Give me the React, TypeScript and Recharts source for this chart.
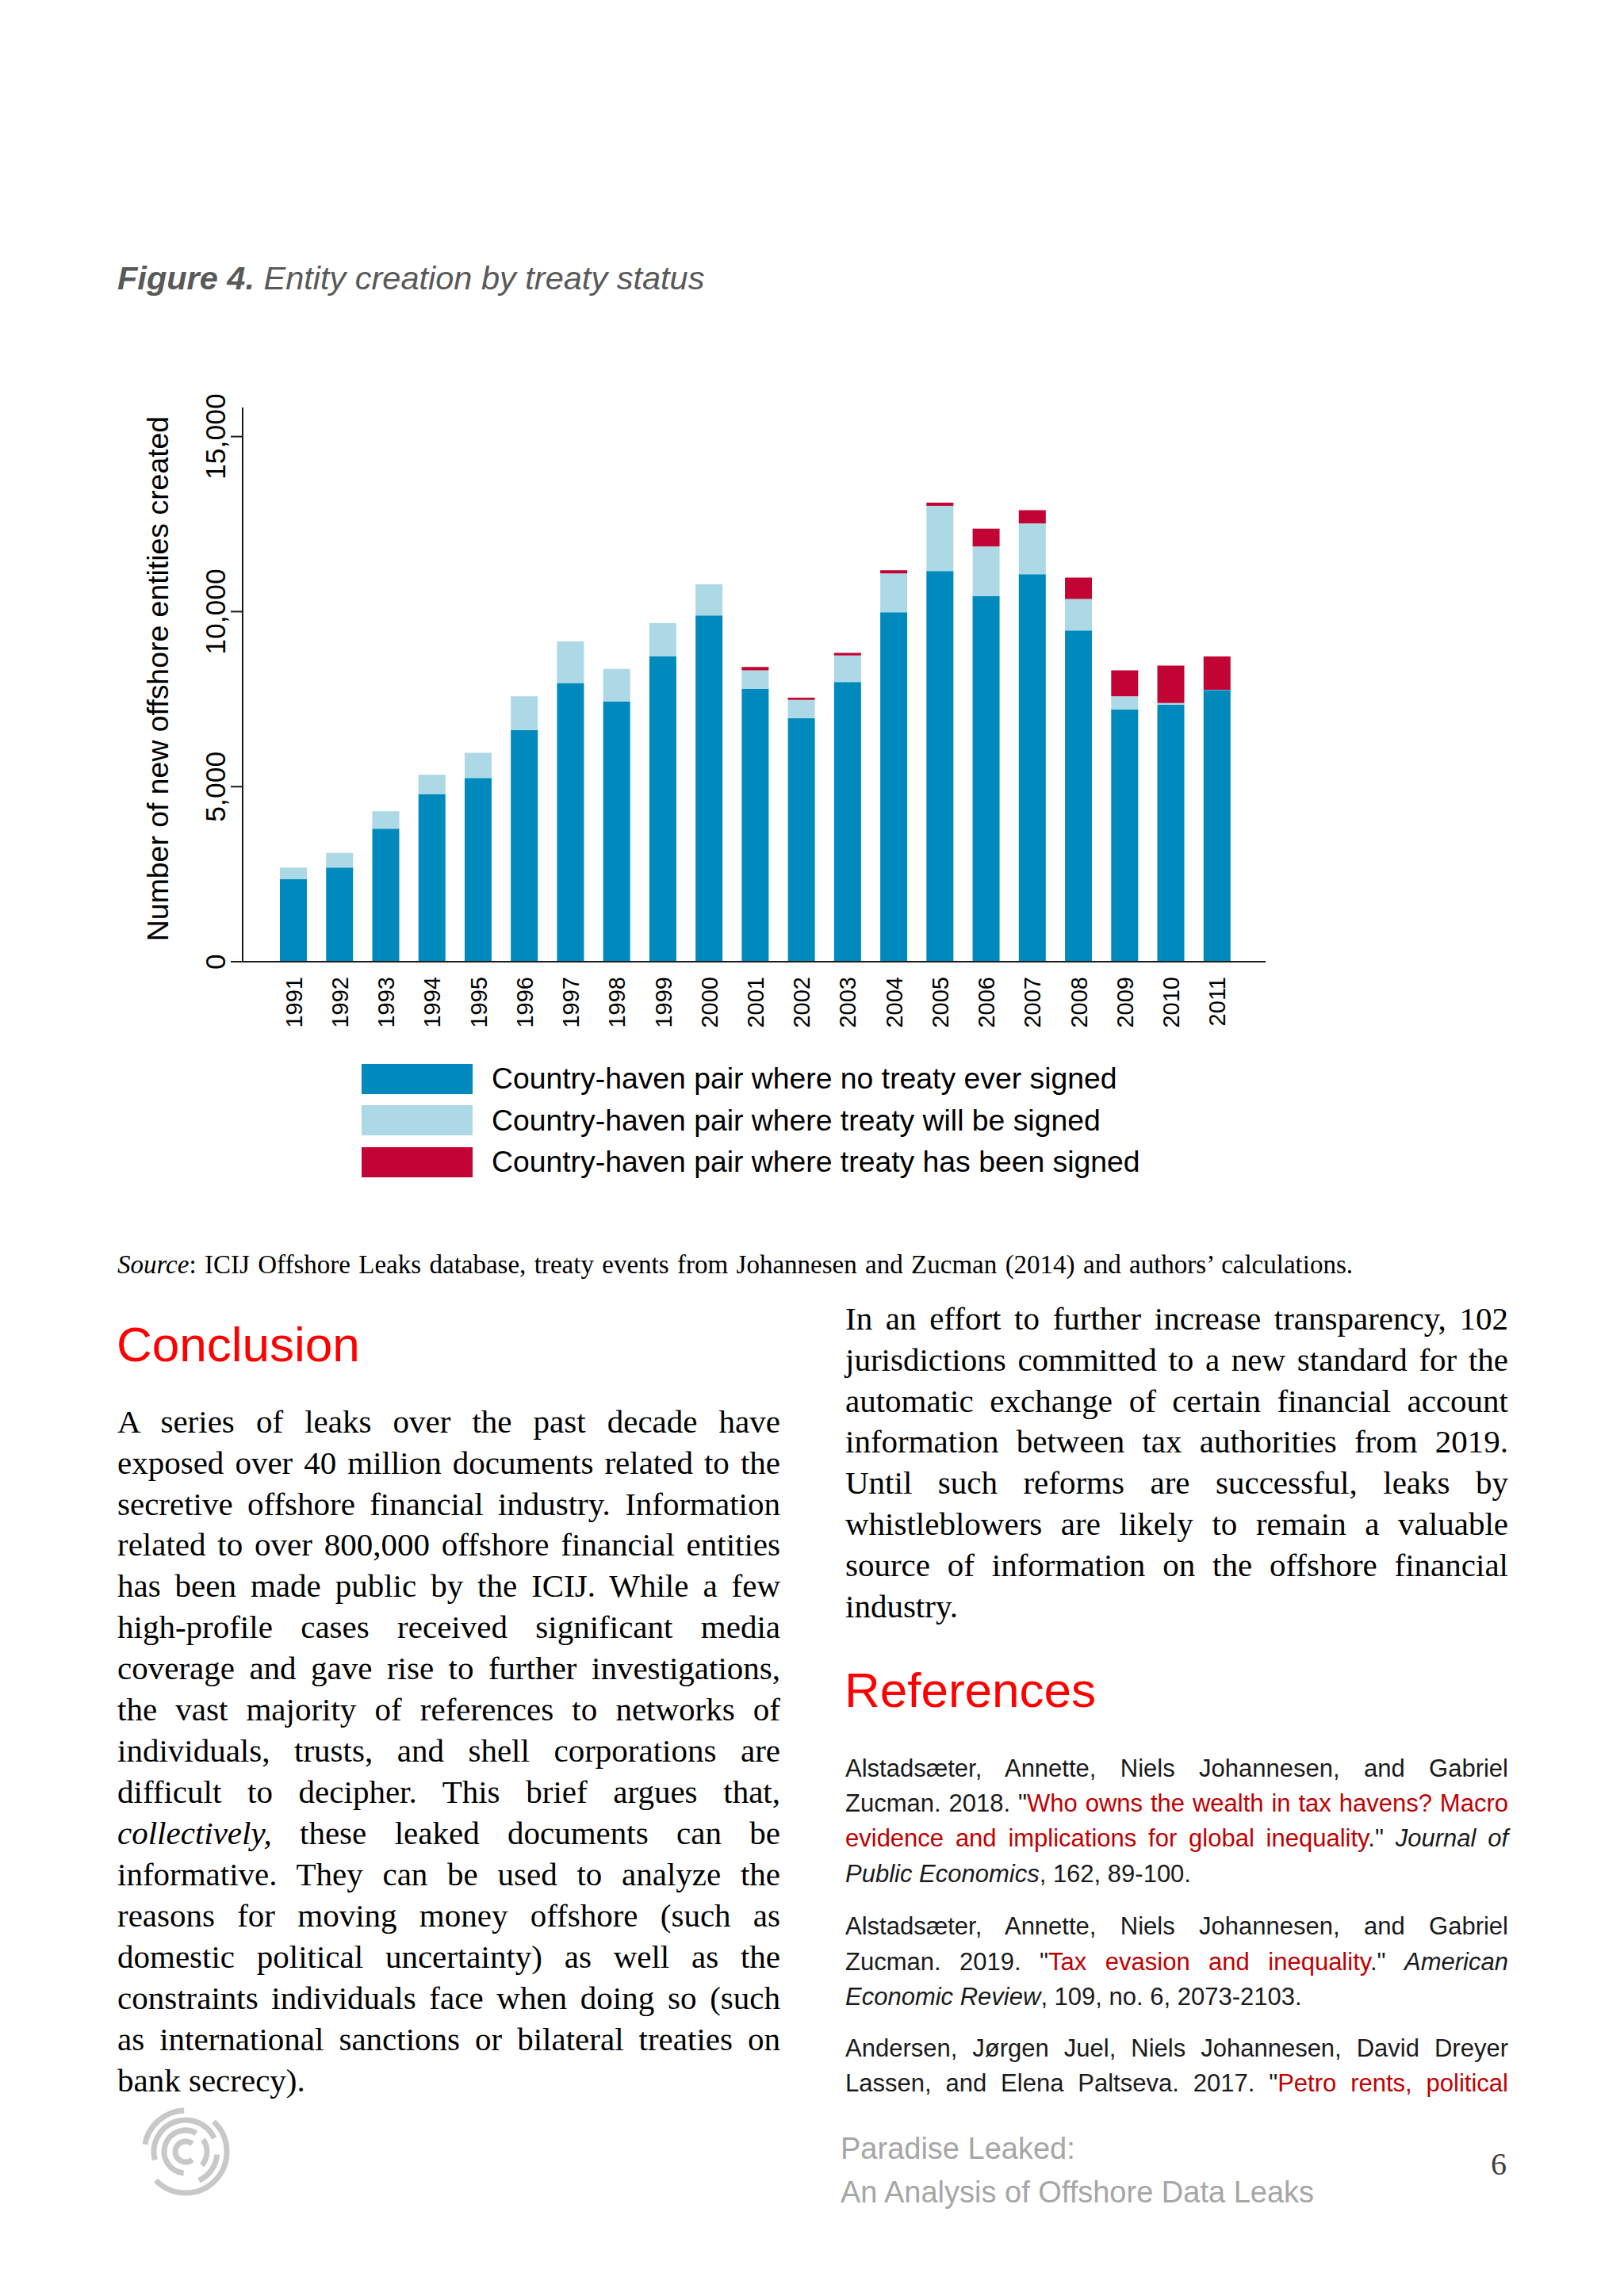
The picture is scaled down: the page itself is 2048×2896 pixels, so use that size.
import React from 'react';
import { BarChart, Bar, XAxis, YAxis } from 'recharts';

// ---------- data ----------
const years = ['1991','1992','1993','1994','1995','1996','1997','1998','1999','2000','2001','2002','2003','2004','2005','2006','2007','2008','2009','2010','2011'];
const noTreaty = [2360,2690,3800,4790,5250,6620,7960,7430,8720,9890,7790,6960,7990,9980,11160,10440,11070,9460,7210,7340,7760];
const willSign = [330,420,500,550,720,960,1190,930,950,890,530,520,760,1110,1860,1420,1450,900,370,50,10];
const signed = [0,0,0,0,0,0,0,0,0,0,100,60,70,90,90,510,380,610,740,1070,950];
const yTicks = [0, 5000, 10000, 15000];
const seriesNames = [
  'Country-haven pair where no treaty ever signed',
  'Country-haven pair where treaty will be signed',
  'Country-haven pair where treaty has been signed',
];

const data = years.map((y, i) => ({ year: y, noTreaty: noTreaty[i], willSign: willSign[i], signed: signed[i] }));

// ---------- style constants ----------
const C_DARK = '#0089BD';
const C_LIGHT = '#ADD8E6';
const C_RED = '#C20434';
const SANS = '"Liberation Sans", Arial, Helvetica, sans-serif';
const SERIF = '"Liberation Serif", "Times New Roman", serif';

const CHART_TOP = 400;
const CHART_W = 1700;
const CHART_H = 1000;
const PLOT_LEFT = 306;
const PLOT_TOP = 514;
const PLOT_BOTTOM = 1213;
const PLOT_RIGHT = 1596;
const YAXIS_W = 120;
const XAXIS_H = 60;

const YTick = (props: any) => {
  const { y, payload } = props;
  return (
    <text
      transform={`translate(${PLOT_LEFT - 22}, ${y}) rotate(-90)`}
      textAnchor="middle"
      fontFamily={SANS}
      fontSize={35.5}
      fill="#000"
    >
      {Number(payload.value).toLocaleString('en-US')}
    </text>
  );
};

const XTick = (props: any) => {
  const { x, payload } = props;
  return (
    <text
      transform={`translate(${x + 10.5}, ${PLOT_BOTTOM - CHART_TOP + 19}) rotate(-90)`}
      textAnchor="end"
      fontFamily={SANS}
      fontSize={29}
      fill="#000"
    >
      {payload.value}
    </text>
  );
};

const YTitle = () => (
  <text
    transform={`translate(212, ${856 - CHART_TOP}) rotate(-90)`}
    textAnchor="middle"
    fontFamily={SANS}
    fontSize={37.4}
    fill="#000"
  >
    Number of new offshore entities created
  </text>
);

// ---------- text helpers ----------
type LineProps = {
  x: number; w?: number; base: number; size: number; serif?: boolean;
  justify?: boolean; color?: string; italic?: boolean; bold?: boolean; children: React.ReactNode;
};
const Line = ({ x, w, base, size, serif, justify, color, italic, bold, children }: LineProps) => {
  const k = serif ? 0.8375 : 0.8465;
  return (
    <div
      style={{
        position: 'absolute',
        left: x,
        top: base - size * k,
        width: w,
        fontSize: size,
        lineHeight: `${size}px`,
        height: size,
        fontFamily: serif ? SERIF : SANS,
        color: color || '#000',
        fontStyle: italic ? 'italic' : 'normal',
        fontWeight: bold ? 'bold' : 'normal',
        whiteSpace: 'nowrap',
        textAlign: justify ? 'justify' : 'left',
        textAlignLast: justify ? 'justify' : 'auto',
      } as React.CSSProperties}
    >
      {children}
    </div>
  );
};

const LEFT_X = 148;
const RIGHT_X = 1066;
const COL_W = 836;
const BODY = 41;
const LH = 51.94;
const REF = 31;
const REF_LH = 44.3;
const RED_LINK = '#C00000';

const leftLines = [
  'A series of leaks over the past decade have',
  'exposed over 40 million documents related to the',
  'secretive offshore financial industry. Information',
  'related to over 800,000 offshore financial entities',
  'has been made public by the ICIJ. While a few',
  'high-profile cases received significant media',
  'coverage and gave rise to further investigations,',
  'the vast majority of references to networks of',
  'individuals, trusts, and shell corporations are',
  'difficult to decipher. This brief argues that,',
  '__collectively',
  'informative. They can be used to analyze the',
  'reasons for moving money offshore (such as',
  'domestic political uncertainty) as well as the',
  'constraints individuals face when doing so (such',
  'as international sanctions or bilateral treaties on',
  'bank secrecy).',
];

const rightLines = [
  'In an effort to further increase transparency, 102',
  'jurisdictions committed to a new standard for the',
  'automatic exchange of certain financial account',
  'information between tax authorities from 2019.',
  'Until such reforms are successful, leaks by',
  'whistleblowers are likely to remain a valuable',
  'source of information on the offshore financial',
  'industry.',
];

const Logo = () => {
  const cx = 234, cy = 2714;
  const arc = (r: number, a0: number, a1: number, key: string) => {
    const rad = (a: number) => (a * Math.PI) / 180;
    const x0 = cx + r * Math.cos(rad(a0)), y0 = cy + r * Math.sin(rad(a0));
    const x1 = cx + r * Math.cos(rad(a1)), y1 = cy + r * Math.sin(rad(a1));
    const large = ((a1 - a0 + 360) % 360) > 180 ? 1 : 0;
    return <path key={key} d={`M ${x0} ${y0} A ${r} ${r} 0 ${large} 1 ${x1} ${y1}`} fill="none" stroke="#C8C8C8" strokeWidth={7} />;
  };
  return (
    <svg width={2048} height={2896} style={{ position: 'absolute', left: 0, top: 0, pointerEvents: 'none' }}>
      {arc(52, 190, 268, 'a')}
      {arc(52, 313, 136, 'b')}
      {arc(40, 165, 335, 'c')}
      {arc(40, 5, 65, 'd')}
      {arc(27, 95, 300, 'e')}
      {arc(27, 325, 40, 'f')}
      {arc(13, 50, 310, 'g')}
    </svg>
  );
};

export default function App() {
  return (
    <div style={{ position: 'absolute', left: 0, top: 0, width: 2048, height: 2896, background: '#fff', overflow: 'hidden' }}>
      {/* Figure title */}
      <Line x={148} base={365} size={41.5} color="#595959" italic>
        <span style={{ fontWeight: 'bold' }}>Figure 4.</span> Entity creation by treaty status
      </Line>

      {/* Chart */}
      <div style={{ position: 'absolute', left: 0, top: CHART_TOP, width: CHART_W, height: CHART_H }}>
        <BarChart
          width={CHART_W}
          height={CHART_H}
          data={data}
          margin={{
            top: PLOT_TOP - CHART_TOP,
            left: PLOT_LEFT - YAXIS_W,
            right: CHART_W - PLOT_RIGHT,
            bottom: CHART_H - (PLOT_BOTTOM - CHART_TOP) - XAXIS_H,
          }}
          barSize={34}
        >
          <XAxis
            dataKey="year"
            interval={0}
            tickLine={false}
            axisLine={{ stroke: '#1a1a1a', strokeWidth: 2 }}
            tick={<XTick />}
            height={XAXIS_H}
            padding={{ left: 35, right: 32 }}
          />
          <YAxis
            type="number"
            domain={[0, 15830]}
            ticks={yTicks}
            interval={0}
            width={YAXIS_W}
            tickSize={15}
            tickLine={{ stroke: '#1a1a1a', strokeWidth: 2 }}
            axisLine={{ stroke: '#1a1a1a', strokeWidth: 2 }}
            tick={<YTick />}
            label={<YTitle />}
          />
          <Bar dataKey="noTreaty" stackId="a" fill={C_DARK} isAnimationActive={false} />
          <Bar dataKey="willSign" stackId="a" fill={C_LIGHT} isAnimationActive={false} />
          <Bar dataKey="signed" stackId="a" fill={C_RED} isAnimationActive={false} />
        </BarChart>
      </div>

      {/* Legend */}
      {[C_DARK, C_LIGHT, C_RED].map((c, i) => {
        const cy = 1361 + i * 52.4;
        return (
          <React.Fragment key={i}>
            <div style={{ position: 'absolute', left: 456, top: cy - 19, width: 140, height: 38, background: c }} />
            <Line x={620} base={cy + 13} size={37.35}>{seriesNames[i]}</Line>
          </React.Fragment>
        );
      })}

      {/* Source */}
      <Line x={148} w={1558} base={1607} size={33} serif justify>
        <i>Source</i>: ICIJ Offshore Leaks database, treaty events from Johannesen and Zucman (2014) and authors’ calculations.
      </Line>

      {/* Conclusion heading */}
      <Line x={147} base={1717} size={62} color="#FF0000">Conclusion</Line>

      {leftLines.map((t, i) => {
        const last = i === leftLines.length - 1;
        return (
          <Line key={i} x={LEFT_X} w={COL_W} base={1807 + i * LH} size={BODY} serif justify={!last}>
            {t === '__collectively' ? (<><i>collectively,</i> these leaked documents can be</>) : t}
          </Line>
        );
      })}

      {rightLines.map((t, i) => {
        const last = i === rightLines.length - 1;
        return (
          <Line key={i} x={RIGHT_X} w={COL_W} base={1677 + i * LH} size={BODY} serif justify={!last}>
            {t}
          </Line>
        );
      })}

      {/* References heading */}
      <Line x={1065} base={2153} size={62} color="#FF0000">References</Line>

      {/* Reference 1 */}
      <Line x={RIGHT_X} w={COL_W} base={2241} size={REF} justify color="#1a1a1a">
        Alstadsæter, Annette, Niels Johannesen, and Gabriel
      </Line>
      <Line x={RIGHT_X} w={COL_W} base={2241 + REF_LH} size={REF} justify color="#1a1a1a">
        Zucman. 2018. "<span style={{ color: RED_LINK }}>Who owns the wealth in tax havens? Macro</span>
      </Line>
      <Line x={RIGHT_X} w={COL_W} base={2241 + 2 * REF_LH} size={REF} justify color="#1a1a1a">
        <span style={{ color: RED_LINK }}>evidence and implications for global inequality</span>." <i>Journal of</i>
      </Line>
      <Line x={RIGHT_X} base={2241 + 3 * REF_LH} size={REF} color="#1a1a1a">
        <i>Public Economics</i>, 162, 89-100.
      </Line>

      {/* Reference 2 */}
      <Line x={RIGHT_X} w={COL_W} base={2440.5} size={REF} justify color="#1a1a1a">
        Alstadsæter, Annette, Niels Johannesen, and Gabriel
      </Line>
      <Line x={RIGHT_X} w={COL_W} base={2440.5 + REF_LH} size={REF} justify color="#1a1a1a">
        Zucman. 2019. "<span style={{ color: RED_LINK }}>Tax evasion and inequality</span>." <i>American</i>
      </Line>
      <Line x={RIGHT_X} base={2440.5 + 2 * REF_LH} size={REF} color="#1a1a1a">
        <i>Economic Review</i>, 109, no. 6, 2073-2103.
      </Line>

      {/* Reference 3 */}
      <Line x={RIGHT_X} w={COL_W} base={2594} size={REF} justify color="#1a1a1a">
        Andersen, Jørgen Juel, Niels Johannesen, David Dreyer
      </Line>
      <Line x={RIGHT_X} w={COL_W} base={2594 + REF_LH} size={REF} justify color="#1a1a1a">
        Lassen, and Elena Paltseva. 2017. "<span style={{ color: RED_LINK }}>Petro rents, political</span>
      </Line>

      {/* Footer */}
      <Logo />
      <Line x={1060} base={2723} size={38} color="#A6A6A6">Paradise Leaked:</Line>
      <Line x={1060} base={2778} size={38} color="#A6A6A6">An Analysis of Offshore Data Leaks</Line>
      <Line x={1880} base={2743} size={40} serif color="#404040">6</Line>
    </div>
  );
}
